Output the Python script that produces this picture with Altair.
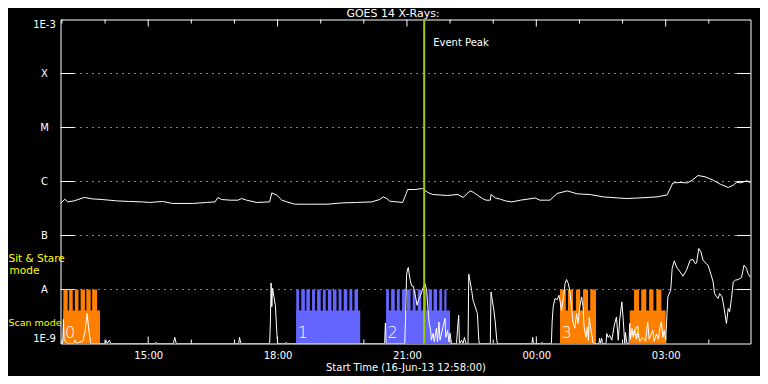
import altair as alt
import pandas as pd

FONT = "DejaVu Sans"
W, H = 690, 324

# ---------------- data ----------------
T_START = "12:58"
T_END = "04:58"
EVENT_PEAK = "21:24"

# GOES 14 long channel (upper white curve), W/m^2
LONG_TIME = ["12:58", "13:04", "13:08", "13:17", "13:31", "13:43", "13:56", "14:16", "14:34", "14:52",
             "15:02", "15:20", "15:34", "16:02", "16:21", "16:33", "16:37", "16:42", "16:54", "17:05",
             "17:10", "17:17", "17:31", "17:49", "17:52", "17:59", "18:06", "18:13", "18:24", "18:45",
             "19:09", "19:31", "19:50", "20:11", "20:22", "20:27", "20:32", "20:36", "20:54", "20:59",
             "21:01", "21:11", "21:22", "21:29", "21:36", "21:56", "22:11", "22:18", "22:28", "22:33",
             "22:38", "22:45", "22:50", "22:56", "22:57", "23:03", "23:10", "23:17", "23:26", "23:38",
             "23:47", "23:54", "23:58", "00:05", "00:19", "00:29", "00:43", "00:57", "01:15", "01:33",
             "01:52", "02:06", "02:24", "02:48", "03:02", "03:10", "03:20", "03:30", "03:37", "03:45",
             "03:55", "04:06", "04:16", "04:27", "04:34", "04:39", "04:44", "04:53", "04:58"]
LONG_FLUX = [3.92e-7, 4.70e-7, 4.19e-7, 4.38e-7, 5.06e-7, 4.76e-7, 4.64e-7, 4.38e-7, 4.27e-7, 4.19e-7,
             4.09e-7, 4.27e-7, 3.92e-7, 3.92e-7, 4.09e-7, 4.19e-7, 5.06e-7, 4.64e-7, 4.51e-7, 4.51e-7,
             4.84e-7, 4.51e-7, 4.09e-7, 4.19e-7, 6.15e-7, 5.57e-7, 4.51e-7, 4.19e-7, 3.80e-7, 3.80e-7,
             3.80e-7, 4.02e-7, 4.09e-7, 4.19e-7, 4.64e-7, 5.19e-7, 4.84e-7, 4.32e-7, 4.09e-7, 6.00e-7,
             7.11e-7, 7.11e-7, 7.41e-7, 6.25e-7, 5.74e-7, 5.51e-7, 5.74e-7, 5.06e-7, 6.70e-7, 6.25e-7,
             5.57e-7, 4.84e-7, 4.51e-7, 4.51e-7, 5.74e-7, 4.97e-7, 4.70e-7, 4.38e-7, 4.19e-7, 4.51e-7,
             4.70e-7, 4.84e-7, 4.97e-7, 4.51e-7, 4.51e-7, 6.00e-7, 6.70e-7, 5.90e-7, 5.74e-7, 5.19e-7,
             4.97e-7, 4.84e-7, 4.97e-7, 5.19e-7, 5.65e-7, 9.42e-7, 9.60e-7, 9.42e-7, 1.06e-6, 1.29e-6,
             1.22e-6, 1.06e-6, 8.91e-7, 7.74e-7, 8.54e-7, 9.70e-7, 9.42e-7, 1.03e-6, 9.50e-7]

# lower white curve
SHORT_TIME = ["12:58", "13:01", "13:02", "13:03", "13:05", "13:08", "13:16", "13:18", "13:20", "13:29",
              "13:32", "13:35", "13:37", "13:40", "14:00", "14:01", "14:03", "14:06", "14:08", "15:10",
              "15:11", "15:12", "15:35", "15:37", "15:39", "17:06", "17:07", "17:09", "17:49", "17:50",
              "17:51", "17:52", "17:53", "17:55", "17:56", "17:57", "17:59", "18:00", "18:11", "18:12",
              "18:13", "20:29", "20:30", "20:31", "20:57", "20:58", "20:59:30", "21:01", "21:02", "21:03",
              "21:04:30", "21:06:30", "21:09", "21:10", "21:12:30", "21:14", "21:16", "21:18", "21:20:30", "21:23",
              "21:25", "21:27:30", "21:29", "21:31", "21:33", "21:34", "21:36:30", "21:38", "21:41", "21:42:30",
              "21:44:30", "21:46", "21:53", "21:54", "21:56:30", "21:58:30", "22:00", "22:02", "22:09", "22:10:30",
              "22:12", "22:13", "22:16", "22:18", "22:20", "22:22", "22:25", "22:26", "22:27:30", "22:30",
              "22:32", "22:33:30", "22:38", "22:40", "22:41", "22:56", "22:57", "22:58", "23:01", "23:03",
              "23:05", "23:06", "23:54", "23:55", "23:56", "00:07", "00:08", "00:09", "00:21", "00:22",
              "00:23:30", "00:26", "00:29", "00:31:30", "00:33:30", "00:35", "00:37:30", "00:40", "00:42", "00:44:30",
              "00:46:30", "00:49", "00:51", "00:53:30", "00:56", "00:58", "01:00:30", "01:03", "01:05", "01:06:30",
              "01:09", "01:11", "01:12:30", "01:13:30", "01:16", "01:18", "01:19", "01:27", "01:28", "01:29",
              "01:31", "01:32", "01:37", "01:38", "01:40", "01:42", "01:45", "01:48:30", "01:51:30", "01:54",
              "01:56", "01:59", "02:01", "02:03", "02:04", "02:06", "02:09", "02:10", "02:11", "02:13",
              "02:15", "02:17", "02:19", "02:21", "02:24", "02:28", "02:32", "02:35", "02:37", "02:40",
              "02:42", "02:44", "02:47", "02:50", "02:52", "02:54", "02:56", "02:58", "03:00", "03:03",
              "03:07", "03:09", "03:12", "03:15", "03:20", "03:24", "03:29", "03:34", "03:38", "03:41",
              "03:43", "03:46", "03:49", "03:52", "03:57", "03:59", "04:04", "04:06", "04:08", "04:11",
              "04:13", "04:15", "04:18:30", "04:21", "04:24:30", "04:27", "04:29", "04:31:30", "04:34", "04:37",
              "04:41", "04:45:30", "04:49", "04:52:30", "04:54:30", "04:58"]
SHORT_FLUX = [1e-9, 1e-9, 2.8e-9, 1.2e-9, 1.1e-9, 1e-9, 1e-9, 1.15e-9, 1e-9, 1.1e-9,
              1.6e-9, 3.6e-9, 2.0e-9, 1e-9, 1e-9, 1.15e-9, 1e-9, 1.15e-9, 1e-9, 1e-9,
              1.05e-9, 1e-9, 1e-9, 1.3e-9, 1e-9, 1e-9, 1.3e-9, 1e-9, 1e-9, 2.5e-9,
              1.32e-8, 4.8e-9, 1.06e-8, 7.3e-9, 5.9e-9, 5.1e-9, 1.55e-9, 1e-9, 1e-9, 1.05e-9,
              1e-9, 1e-9, 2.4e-9, 1e-9, 1e-9, 2.7e-9, 1.84e-8, 2.45e-8, 2.55e-8, 1.98e-8,
              1.49e-8, 1.17e-8, 1.15e-8, 9.7e-9, 6.8e-9, 5.1e-9, 6.3e-9, 7.3e-9, 9.0e-9, 1.12e-8,
              1.29e-8, 9.7e-9, 4.8e-9, 2.35e-9, 1.76e-9, 1.15e-9, 1.55e-9, 1.07e-9, 1.92e-9, 1.07e-9,
              2.5e-9, 1.15e-9, 2.94e-9, 1.3e-9, 1.76e-9, 1.07e-9, 1.55e-9, 1e-9, 1e-9, 1.92e-9,
              3.34e-9, 1e-9, 1.15e-9, 1e-9, 1.3e-9, 1e-9, 1e-9, 1.92e-8, 1.49e-8, 9.7e-9,
              6.3e-9, 5.5e-9, 3.6e-9, 1.15e-9, 1e-9, 1e-9, 9.0e-9, 7.3e-9, 4.1e-9, 2.4e-9,
              1.15e-9, 1e-9, 1e-9, 1.3e-9, 1e-9, 1e-9, 1.05e-9, 1e-9, 1e-9, 2.5e-9,
              4.8e-9, 6.8e-9, 6.5e-9, 7.8e-9, 5.6e-9, 4.1e-9, 6.8e-9, 1.29e-8, 1.53e-8, 1.29e-8,
              9.7e-9, 4.8e-9, 2.5e-9, 1.92e-9, 3.6e-9, 2.35e-9, 4.8e-9, 7.3e-9, 4.8e-9, 2.03e-9,
              1.3e-9, 2.03e-9, 1.15e-9, 3.0e-9, 1.76e-9, 1.25e-9, 1e-9, 1e-9, 1.25e-9, 1e-9,
              1.25e-9, 1e-9, 1e-9, 1.53e-9, 1.3e-9, 1.42e-9, 1.15e-9, 2.18e-9, 3.1e-9, 1.15e-9,
              2.7e-9, 5.9e-9, 2.7e-9, 1e-9, 1.6e-9, 1e-9, 1e-9, 2.35e-9, 1.2e-9, 1.9e-9,
              1.3e-9, 1.8e-9, 1.2e-9, 1.6e-9, 1.1e-9, 1.3e-9, 1.1e-9, 2.5e-9, 1.2e-9, 1.5e-9,
              1.76e-9, 1.1e-9, 1.5e-9, 1.2e-9, 2.0e-9, 2.5e-9, 1.3e-9, 1.76e-9, 1.15e-9, 7.3e-9,
              9.7e-9, 2.45e-8, 3.39e-8, 2.62e-8, 2.12e-8, 1.76e-8, 2.28e-8, 3.49e-8, 3.6e-8, 3.03e-8,
              3.11e-8, 5.74e-8, 4.97e-8, 3.49e-8, 2.94e-8, 2.82e-8, 1.71e-8, 1.38e-8, 8.4e-9, 7.3e-9,
              6.8e-9, 8.4e-9, 7.3e-9, 4.76e-9, 2.35e-9, 4.45e-9, 3.85e-9, 6.8e-9, 1.38e-8, 1.49e-8,
              1.53e-8, 1.67e-8, 2.82e-8, 2.45e-8, 1.98e-8, 1.67e-8]

# observing blocks (scan mode / sit & stare mode)
BLOCK_LABEL = ["0", "1", "2", "3", "4"]
BLOCK_MODE = ["scan", "sit", "sit", "scan", "scan"]
BLOCK_START = ["13:02", "18:26", "20:31", "00:33", "02:10"]
BLOCK_END = ["13:53", "19:55", "22:00", "01:23", "03:00"]
BLOCK_TEETH = [
    [("13:02", "13:08"), ("13:10", "13:15"), ("13:18", "13:23"), ("13:26", "13:32"),
     ("13:34", "13:40"), ("13:42", "13:49")],
    [("18:26", "18:30"), ("18:33", "18:38"), ("18:40", "18:45"), ("18:48", "18:52"),
     ("18:55", "19:00"), ("19:03", "19:07"), ("19:10", "19:15"), ("19:17", "19:22"),
     ("19:25", "19:29"), ("19:32", "19:37"), ("19:40", "19:44"), ("19:47", "19:52")],
    [("20:31", "20:35"), ("20:38", "20:43"), ("20:46", "20:50"), ("20:53", "20:58"),
     ("21:00", "21:05"), ("21:08", "21:12"), ("21:15", "21:20"), ("21:23", "21:27"),
     ("21:30", "21:35"), ("21:37", "21:42"), ("21:45", "21:49"), ("21:52", "21:55")],
    [("00:33", "00:41"), ("00:44", "00:51"), ("00:55", "01:01"), ("01:05", "01:12"),
     ("01:15", "01:23")],
    [("02:16", "02:23"), ("02:26", "02:33"), ("02:37", "02:43"), ("02:47", "02:54")],
]
BASE_TOP = 4.1e-9
TOOTH_TOP = 1e-8

Y_TICKS = [1e-9, 1e-8, 1e-7, 1e-6, 1e-5, 1e-4, 1e-3]
Y_LABELS = ["1E-9", "A", "B", "C", "M", "X", "1E-3"]
X_LABEL_TIMES = ["15:00", "18:00", "21:00", "00:00", "03:00"]
HOUR_TICKS = ["13:00", "14:00", "15:00", "16:00", "17:00", "18:00", "19:00", "20:00",
              "21:00", "22:00", "23:00", "00:00", "01:00", "02:00", "03:00", "04:00"]

ORANGE = "#FF8000"
BLUE = "#6464FF"
GREEN = "#9BCD00"
YELLOW = "#FFFF00"


# ---------------- helpers ----------------
def iso(t):
    p = [int(v) for v in t.split(":")]
    h, m = p[0], p[1]
    s = p[2] if len(p) > 2 else 0
    day = 16 if h >= 12 else 17
    return f"2013-06-{day:02d}T{h:02d}:{m:02d}:{s:02d}Z"


def ms(t):
    return int(pd.Timestamp(iso(t)).value // 10**6)


XSCALE = alt.Scale(type="utc", domain=[ms(T_START), ms(T_END)], nice=False)
XAXIS = alt.Axis(values=[ms(t) for t in X_LABEL_TIMES], labelExpr="utcFormat(datum.value, '%H:%M')",
                 ticks=False, tickSize=0, domain=False, grid=False, labelFlush=False,
                 labelColor="white", labelFont=FONT, labelFontSize=10, labelPadding=7,
                 title="Start Time (16-Jun-13 12:58:00)", titleColor="white", titleFont=FONT,
                 titleFontSize=10, titleFontWeight="normal", titlePadding=2)

expr = ""
for v, lab in zip(Y_TICKS, Y_LABELS):
    expr += f"datum.value < {v * 3:g} ? '{lab}' : "
expr += "''"
YSCALE = alt.Scale(type="log", domain=[Y_TICKS[0], Y_TICKS[-1]], nice=False)
YAXIS = alt.Axis(values=Y_TICKS, labelExpr=expr, ticks=False, tickSize=0, domain=False, grid=False,
                 labelFlush=True, labelAlign="center", labelPadding=16.5, labelColor="white",
                 labelFont=FONT, labelFontSize=10, title=None)


def X(field):
    return alt.X(f"{field}:T", scale=XSCALE, axis=XAXIS)


def Y(field):
    return alt.Y(f"{field}:Q", scale=YSCALE, axis=YAXIS)


# ---------------- layers ----------------
dec_df = pd.DataFrame({"v": Y_TICKS[1:-1]})
grid = alt.Chart(dec_df).mark_rule(color="white", strokeWidth=1, strokeDash=[1, 5]).encode(
    y=Y("v"), x=alt.value(14), x2=alt.value(W - 14))
yt_left = alt.Chart(dec_df).mark_rule(color="white", strokeWidth=1).encode(
    y=Y("v"), x=alt.value(0), x2=alt.value(14))
yt_right = alt.Chart(dec_df).mark_rule(color="white", strokeWidth=1).encode(
    y=Y("v"), x=alt.value(W - 14), x2=alt.value(W))

major_df = pd.DataFrame({"t": [iso(t) for t in HOUR_TICKS if t in X_LABEL_TIMES]})
minor_df = pd.DataFrame({"t": [iso(t) for t in HOUR_TICKS if t not in X_LABEL_TIMES]})
xticks = []
for df, ln in ((major_df, 7), (minor_df, 4)):
    xticks.append(alt.Chart(df).mark_rule(color="white", strokeWidth=1).encode(
        x=X("t"), y=alt.value(0), y2=alt.value(ln)))
    xticks.append(alt.Chart(df).mark_rule(color="white", strokeWidth=1).encode(
        x=X("t"), y=alt.value(H - ln), y2=alt.value(H)))

rows = []
for lab, mode, s, e, teeth in zip(BLOCK_LABEL, BLOCK_MODE, BLOCK_START, BLOCK_END, BLOCK_TEETH):
    rows.append({"start": iso(s), "end": iso(e), "lo": 1e-9, "hi": BASE_TOP, "mode": mode})
    for ts, te in teeth:
        rows.append({"start": iso(ts), "end": iso(te), "lo": 1e-9, "hi": TOOTH_TOP, "mode": mode})
blocks = alt.Chart(pd.DataFrame(rows)).mark_rect(strokeWidth=0).encode(
    x=X("start"), x2=alt.X2("end"), y=Y("lo"), y2=alt.Y2("hi"),
    color=alt.Color("mode:N", scale=alt.Scale(domain=["scan", "sit"], range=[ORANGE, BLUE]), legend=None))

block_lab = alt.Chart(pd.DataFrame({"t": [iso(s) for s in BLOCK_START], "lab": BLOCK_LABEL})).mark_text(
    color="white", font=FONT, fontSize=16, fontWeight=200, align="left", baseline="middle", dx=1.5
).encode(x=X("t"), y=alt.value(313.5), text="lab:N")

long_line = alt.Chart(pd.DataFrame({"t": [iso(t) for t in LONG_TIME], "flux": LONG_FLUX})).mark_line(
    color="white", strokeWidth=1, clip=True).encode(x=X("t"), y=Y("flux"))
short_line = alt.Chart(pd.DataFrame({"t": [iso(t) for t in SHORT_TIME], "flux": SHORT_FLUX})).mark_line(
    color="white", strokeWidth=1, clip=True).encode(x=X("t"), y=Y("flux"))

ev_df = pd.DataFrame({"t": [iso(EVENT_PEAK)], "lab": ["Event Peak"]})
ev_rule = alt.Chart(ev_df).mark_rule(color=GREEN, strokeWidth=2).encode(
    x=X("t"), y=alt.value(0), y2=alt.value(H))
ev_text = alt.Chart(ev_df).mark_text(color="white", font=FONT, fontSize=10, align="left",
                                     baseline="middle", dx=9).encode(
    x=X("t"), y=alt.value(23.5), text="lab:N")


def label(txt, x, y, size, color, align):
    return alt.Chart(pd.DataFrame({"txt": [txt]})).mark_text(
        color=color, font=FONT, fontSize=size, align=align, baseline="middle"
    ).encode(x=alt.value(x), y=alt.value(y), text="txt:N")


texts = [
    label("GOES 14 X-Rays:", 332.5, -5.5, 11, "white", "center"),
    label("Sit & Stare", -52, 239.5, 10.5, YELLOW, "left"),
    label("mode", -36, 251.5, 10.5, YELLOW, "center"),
    label("Scan mode", -52, 303.8, 9.5, YELLOW, "left"),
]

chart = alt.layer(
    grid, yt_left, yt_right, *xticks, blocks, block_lab, long_line, short_line, ev_rule, ev_text, *texts
).properties(
    width=W, height=H,
    padding={"left": 52.5, "top": 11.5, "right": 9.5, "bottom": 32.5},
    autosize=alt.AutoSizeParams(type="none"),
    background="black",
).configure_view(stroke="white", strokeWidth=1)

chart.save("out.html", embed_options={"renderer": "svg", "actions": False})
